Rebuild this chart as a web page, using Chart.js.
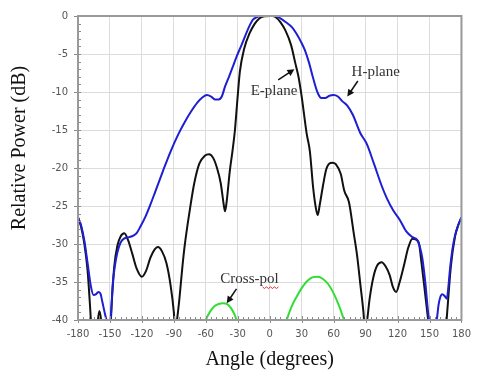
<!DOCTYPE html>
<html>
<head>
<meta charset="UTF-8">
<title>Relative Power vs Angle</title>
<script src="https://cdn.jsdelivr.net/npm/chart.js"></script>
<style>
  html, body { margin: 0; padding: 0; background: #fff; }
  .box { width: 479px; height: 375px; position: relative; }
</style>
</head>
<body>
<div class="box"><canvas id="chart"></canvas></div>
<script>
// tick labels
const xTicks = [-180, -150, -120, -90, -60, -30, 0, 30, 60, 90, 120, 150, 180];
const yTicks = [0, -5, -10, -15, -20, -25, -30, -35, -40];

// H-plane (blue)
const hAngles = [-180, -177, -174, -171, -168, -165.5, -163, -161, -159, -157, -154.5, -151.5, -150, -148.5, -147.5, -145.5, -143, -140, -136.8, -132, -128, -124.6, -121, -117, -112, -107.7, -100, -93, -86, -80, -74, -68, -63, -59, -55, -51, -48, -45, -42, -38, -35, -31, -27, -23, -19, -16, -12, -8, 0, 5, 10, 15, 21, 25, 29, 33, 37, 41, 45, 48.5, 52, 56, 60, 64, 68, 72.8, 78, 85, 91, 98, 105, 110, 116, 122, 128, 134, 138.7, 141, 143.3, 146.3, 148, 149.5, 151.5, 154.5, 157, 158.5, 160.1, 162, 164, 166.2, 167.8, 169.3, 171.5, 173.9, 177, 180];
const hPlane = [-26.5, -27.6, -29.6, -32.5, -35.5, -36.7, -36.6, -36.3, -36.5, -37.7, -39.3, -40.6, -40.6, -38, -35.5, -33, -31.1, -29.8, -29.3, -29.1, -28.9, -28.5, -27.6, -26.5, -24.8, -23.2, -20.3, -17.8, -15.6, -14, -12.6, -11.4, -10.7, -10.4, -10.6, -11.0, -11.0, -10.6, -9.3, -7.9, -6.8, -5.3, -4.0, -2.6, -1.3, -0.5, -0.15, 0, 0, 0, -0.3, -0.8, -1.5, -2.3, -3.3, -4.5, -6.2, -8.3, -10.1, -10.8, -10.8, -10.5, -10.4, -10.6, -11.2, -11.8, -13, -15.4, -16.8, -19.5, -22.3, -24, -25.6, -26.8, -28.3, -29.1, -29.5, -30.4, -31.9, -35.4, -38, -40, -42, -42, -39.8, -38, -37, -36.6, -36.8, -37.2, -35.5, -33.2, -30.7, -28.9, -27.5, -26.5];

// E-plane (black)
const eAngles = [-180, -177, -174, -171, -169, -167.5, -165, -162, -160, -158, -156, -152, -149.5, -148, -146, -143, -140, -136.5, -133, -129, -125, -120, -116, -112, -108, -105, -101, -97, -93, -90, -88.5, -87, -85, -82, -80, -75, -71, -66, -61, -57, -53, -49.5, -46, -43, -42, -40.5, -39, -37.5, -35, -32.8, -30, -28, -24, -19, -14, -10, -5, 0, 2.5, 5, 10, 14.7, 20, 24, 27, 30, 34.6, 37.7, 40.7, 43, 45, 47, 49.9, 53, 56, 59, 62, 66.7, 70, 74.4, 79, 82, 85, 88, 89.7, 91.5, 94, 97.4, 101, 105, 109, 112.6, 115.5, 118.8, 122, 126.4, 130, 134, 137, 140.2, 142.5, 144.8, 147.5, 149.4, 152, 163, 165.5, 167.7, 170, 174, 177, 180];
const ePlane = [-26.5, -27.8, -30, -33.5, -37.5, -41, -46, -41, -38.8, -40.5, -46, -45, -41, -37, -33, -30.2, -29, -28.6, -29.5, -31.3, -33.2, -34.3, -33.5, -31.8, -30.7, -30.4, -31.0, -32.5, -35.5, -39, -42, -40, -37.5, -33, -30.4, -25.5, -22.1, -19.4, -18.4, -18.2, -18.7, -20, -22, -25, -25.7, -24.5, -22.5, -20.4, -17.8, -15.2, -10.4, -7.3, -4.3, -2.3, -1.0, -0.35, -0.05, 0, 0, -0.1, -0.8, -1.9, -3.8, -6.2, -8, -10.6, -15.4, -17.8, -22.5, -25, -26.2, -24.8, -22.4, -20.2, -19.4, -19.3, -19.5, -20.8, -23, -24.5, -28.7, -31.5, -35.2, -39, -42, -40, -37, -34.3, -32.8, -32.4, -33, -34.1, -35.6, -36.3, -35, -32.6, -30.5, -29.3, -29.4, -30, -32.5, -35.2, -38.5, -41, -46, -46, -41, -37, -33, -29, -27.5, -26.5];

// Cross-pol (green), two lobes
const xpAngles = [-62, -60, -56, -52, -48, -44, -40, -36, -33, -31, -29, null, 14, 16, 20, 25, 30, 35, 40, 45, 50, 55, 60, 65, 70, 72];
const crossPol = [-41, -40, -38.9, -38.2, -37.9, -37.8, -37.9, -38.5, -39.3, -40.1, -41, null, -41.2, -40, -38.4, -37, -35.8, -34.9, -34.4, -34.3, -34.6, -35.3, -36.5, -38.1, -40.1, -41];

const pts = (xs, ys) => xs.map((x, i) => (x === null ? { x: NaN, y: null } : { x: x, y: ys[i] }));

const serif = "'Liberation Serif', 'Times New Roman', serif";

// frame, little ticks and the text labels with arrows
const extras = {
  id: 'extras',
  afterDraw(chart) {
    const { ctx, chartArea: a, scales: { x, y } } = chart;
    ctx.save();
    // minor ticks
    ctx.strokeStyle = '#8a8a8a';
    ctx.lineWidth = 1;
    ctx.beginPath();
    for (let v = -180; v <= 180; v += 5) {
      const px = Math.round(x.getPixelForValue(v)) + 0.5;
      ctx.moveTo(px, a.bottom);
      ctx.lineTo(px, a.bottom - (v % 30 === 0 ? 4 : 3));
      if (v % 30 === 0) { ctx.moveTo(px, a.bottom); ctx.lineTo(px, a.bottom + 3); }
    }
    for (let v = -40; v <= 0; v += 1) {
      const py = Math.round(y.getPixelForValue(v)) + 0.5;
      ctx.moveTo(a.left, py);
      ctx.lineTo(a.left + 3, py);
      if (v % 5 === 0) { ctx.moveTo(a.left, py); ctx.lineTo(a.left - 4, py); }
    }
    ctx.stroke();
    // frame
    ctx.strokeStyle = '#999';
    ctx.lineWidth = 2;
    ctx.strokeRect(a.left, a.top, a.right - a.left, a.bottom - a.top);

    // labels
    ctx.fillStyle = '#333';
    ctx.font = '15px ' + serif;
    ctx.textAlign = 'center';
    ctx.textBaseline = 'middle';
    const label = (t, ax, ay) => ctx.fillText(t, x.getPixelForValue(ax), y.getPixelForValue(ay));
    label('E-plane', 4, -9.9);
    label('H-plane', 99.5, -7.4);
    label('Cross-pol', -19, -34.6);

    const arrow = (x0, y0, x1, y1) => {
      const p0 = [x.getPixelForValue(x0), y.getPixelForValue(y0)];
      const p1 = [x.getPixelForValue(x1), y.getPixelForValue(y1)];
      const ang = Math.atan2(p1[1] - p0[1], p1[0] - p0[0]);
      ctx.strokeStyle = '#111';
      ctx.fillStyle = '#111';
      ctx.lineWidth = 1.5;
      ctx.beginPath();
      ctx.moveTo(p0[0], p0[1]);
      ctx.lineTo(p1[0] - 4 * Math.cos(ang), p1[1] - 4 * Math.sin(ang));
      ctx.stroke();
      ctx.beginPath();
      ctx.moveTo(p1[0], p1[1]);
      ctx.lineTo(p1[0] - 7 * Math.cos(ang) + 3.5 * Math.sin(ang), p1[1] - 7 * Math.sin(ang) - 3.5 * Math.cos(ang));
      ctx.lineTo(p1[0] - 7 * Math.cos(ang) - 3.5 * Math.sin(ang), p1[1] - 7 * Math.sin(ang) + 3.5 * Math.cos(ang));
      ctx.closePath();
      ctx.fill();
    };
    arrow(8, -8.4, 23.2, -7.0);
    arrow(82.7, -8.55, 72.8, -10.6);
    arrow(-31.2, -35.9, -40.4, -37.8);

    // red spell-check squiggle under "pol"
    const sx = x.getPixelForValue(-19) + 13;
    const sy = y.getPixelForValue(-34.6) + 8;
    ctx.strokeStyle = '#e03030';
    ctx.lineWidth = 1;
    ctx.beginPath();
    for (let i = 0; i <= 16; i += 2) {
      ctx.lineTo(sx + i, sy + (i % 4 === 0 ? 0 : 1.5));
    }
    ctx.stroke();
    ctx.restore();
  }
};

const gridColor = '#dcdcdc';

new Chart(document.getElementById('chart').getContext('2d'), {
  type: 'line',
  data: {
    datasets: [
      {
        label: 'H-plane',
        data: pts(hAngles, hPlane),
        borderColor: '#1e1ed2',
        borderWidth: 2,
        pointRadius: 0,
        cubicInterpolationMode: 'monotone'
      },
      {
        label: 'E-plane',
        data: pts(eAngles, ePlane),
        borderColor: '#111111',
        borderWidth: 2,
        pointRadius: 0,
        cubicInterpolationMode: 'monotone'
      },
      {
        label: 'Cross-pol',
        data: pts(xpAngles, crossPol),
        borderColor: '#33dd33',
        borderWidth: 2,
        pointRadius: 0,
        spanGaps: false,
        cubicInterpolationMode: 'monotone'
      }
    ]
  },
  options: {
    responsive: true,
    maintainAspectRatio: false,
    animation: false,
    layout: { padding: { top: 14, right: 9, left: 0, bottom: 0 } },
    plugins: { legend: { display: false }, tooltip: { enabled: false } },
    scales: {
      x: {
        type: 'linear',
        min: -180,
        max: 180,
        afterFit: s => { s.height = 55; },
        afterBuildTicks: s => { s.ticks = xTicks.map(v => ({ value: v })); },
        ticks: { padding: 8, font: { family: 'DejaVu Sans', size: 10 }, color: '#555', maxRotation: 0 },
        grid: { color: gridColor, drawTicks: false },
        border: { display: false },
        title: { display: true, text: 'Angle (degrees)', font: { family: serif, size: 20 }, color: '#111', padding: { top: 0, bottom: 3 } }
      },
      y: {
        type: 'linear',
        min: -40,
        max: 0,
        afterFit: s => { s.width = 78; },
        afterBuildTicks: s => { s.ticks = yTicks.map(v => ({ value: v })); },
        ticks: { padding: 10, font: { family: 'DejaVu Sans', size: 10 }, color: '#555' },
        grid: { color: gridColor, drawTicks: false },
        border: { display: false },
        title: { display: true, text: '        Relative Power (dB)', font: { family: serif, size: 20 }, color: '#111', padding: { top: 8, bottom: 0 } }
      }
    }
  },
  plugins: [extras]
});
</script>
</body>
</html>
